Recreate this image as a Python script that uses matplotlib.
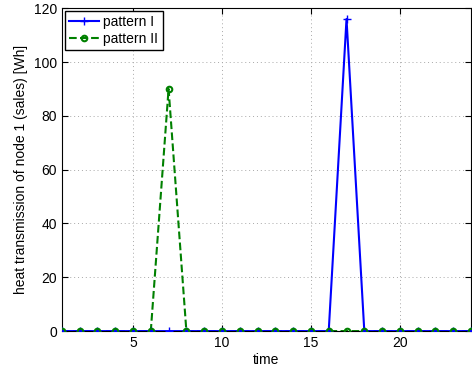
import matplotlib
matplotlib.use("Agg")
import matplotlib.pyplot as plt
from matplotlib.lines import Line2D
import numpy as np

plt.rcParams['font.family'] = ['Liberation Sans', 'DejaVu Sans']

time = np.arange(1, 25)
pattern_1 = [0, 0, 0, 0, 0, 0, 0, 0, 0, 0, 0, 0, 0, 0, 0, 0, 116, 0, 0, 0, 0, 0, 0, 0]
pattern_2 = [0, 0, 0, 0, 0, 0, 90, 0, 0, 0, 0, 0, 0, 0, 0, 0, 0, 0, 0, 0, 0, 0, 0, 0]

fig = plt.figure(figsize=(4.72, 3.72), dpi=100)
ax = fig.add_axes([0.131, 0.110, 0.867, 0.868])

# green dashed line sits under the blue one, its circles on top
ax.plot(time, pattern_2, color='green', linestyle='--', linewidth=1.5, zorder=2)
ax.plot(time, pattern_1, color='blue', marker='+', markersize=6, linewidth=1.5, zorder=3)
ax.plot(time, pattern_2, color='green', linestyle='none', marker='o', markersize=4,
        markerfacecolor='none', markeredgewidth=1.5, zorder=4)

ax.set_xlim(1, 24)
ax.set_ylim(0, 120)
ax.set_xticks([5, 10, 15, 20])
ax.set_yticks([0, 20, 40, 60, 80, 100, 120])
ax.grid(True, linestyle=(0, (1, 3)), color='#a8a8a8', linewidth=0.7)
ax.tick_params(direction='in', labelsize=10, length=4, top=True, right=True)
ax.set_xlabel('time', fontsize=10, labelpad=2)
ax.set_ylabel('heat transmission of node 1 (sales) [Wh]', fontsize=10)

handles = [
    Line2D([], [], color='blue', marker='+', markersize=6, linewidth=1.5),
    Line2D([], [], color='green', linestyle='--', marker='o', markersize=4,
           markerfacecolor='none', markeredgewidth=1.5, linewidth=1.5),
]
leg = ax.legend(handles, ['pattern I', 'pattern II'], loc='upper left', fontsize=10,
                fancybox=False, framealpha=1, edgecolor='black', borderaxespad=0.2,
                handlelength=2.2, borderpad=0.3, labelspacing=0.2, handletextpad=0.3)
leg.get_frame().set_linewidth(1.0)
leg.set_zorder(5)

fig.savefig('out.png', dpi=100)
